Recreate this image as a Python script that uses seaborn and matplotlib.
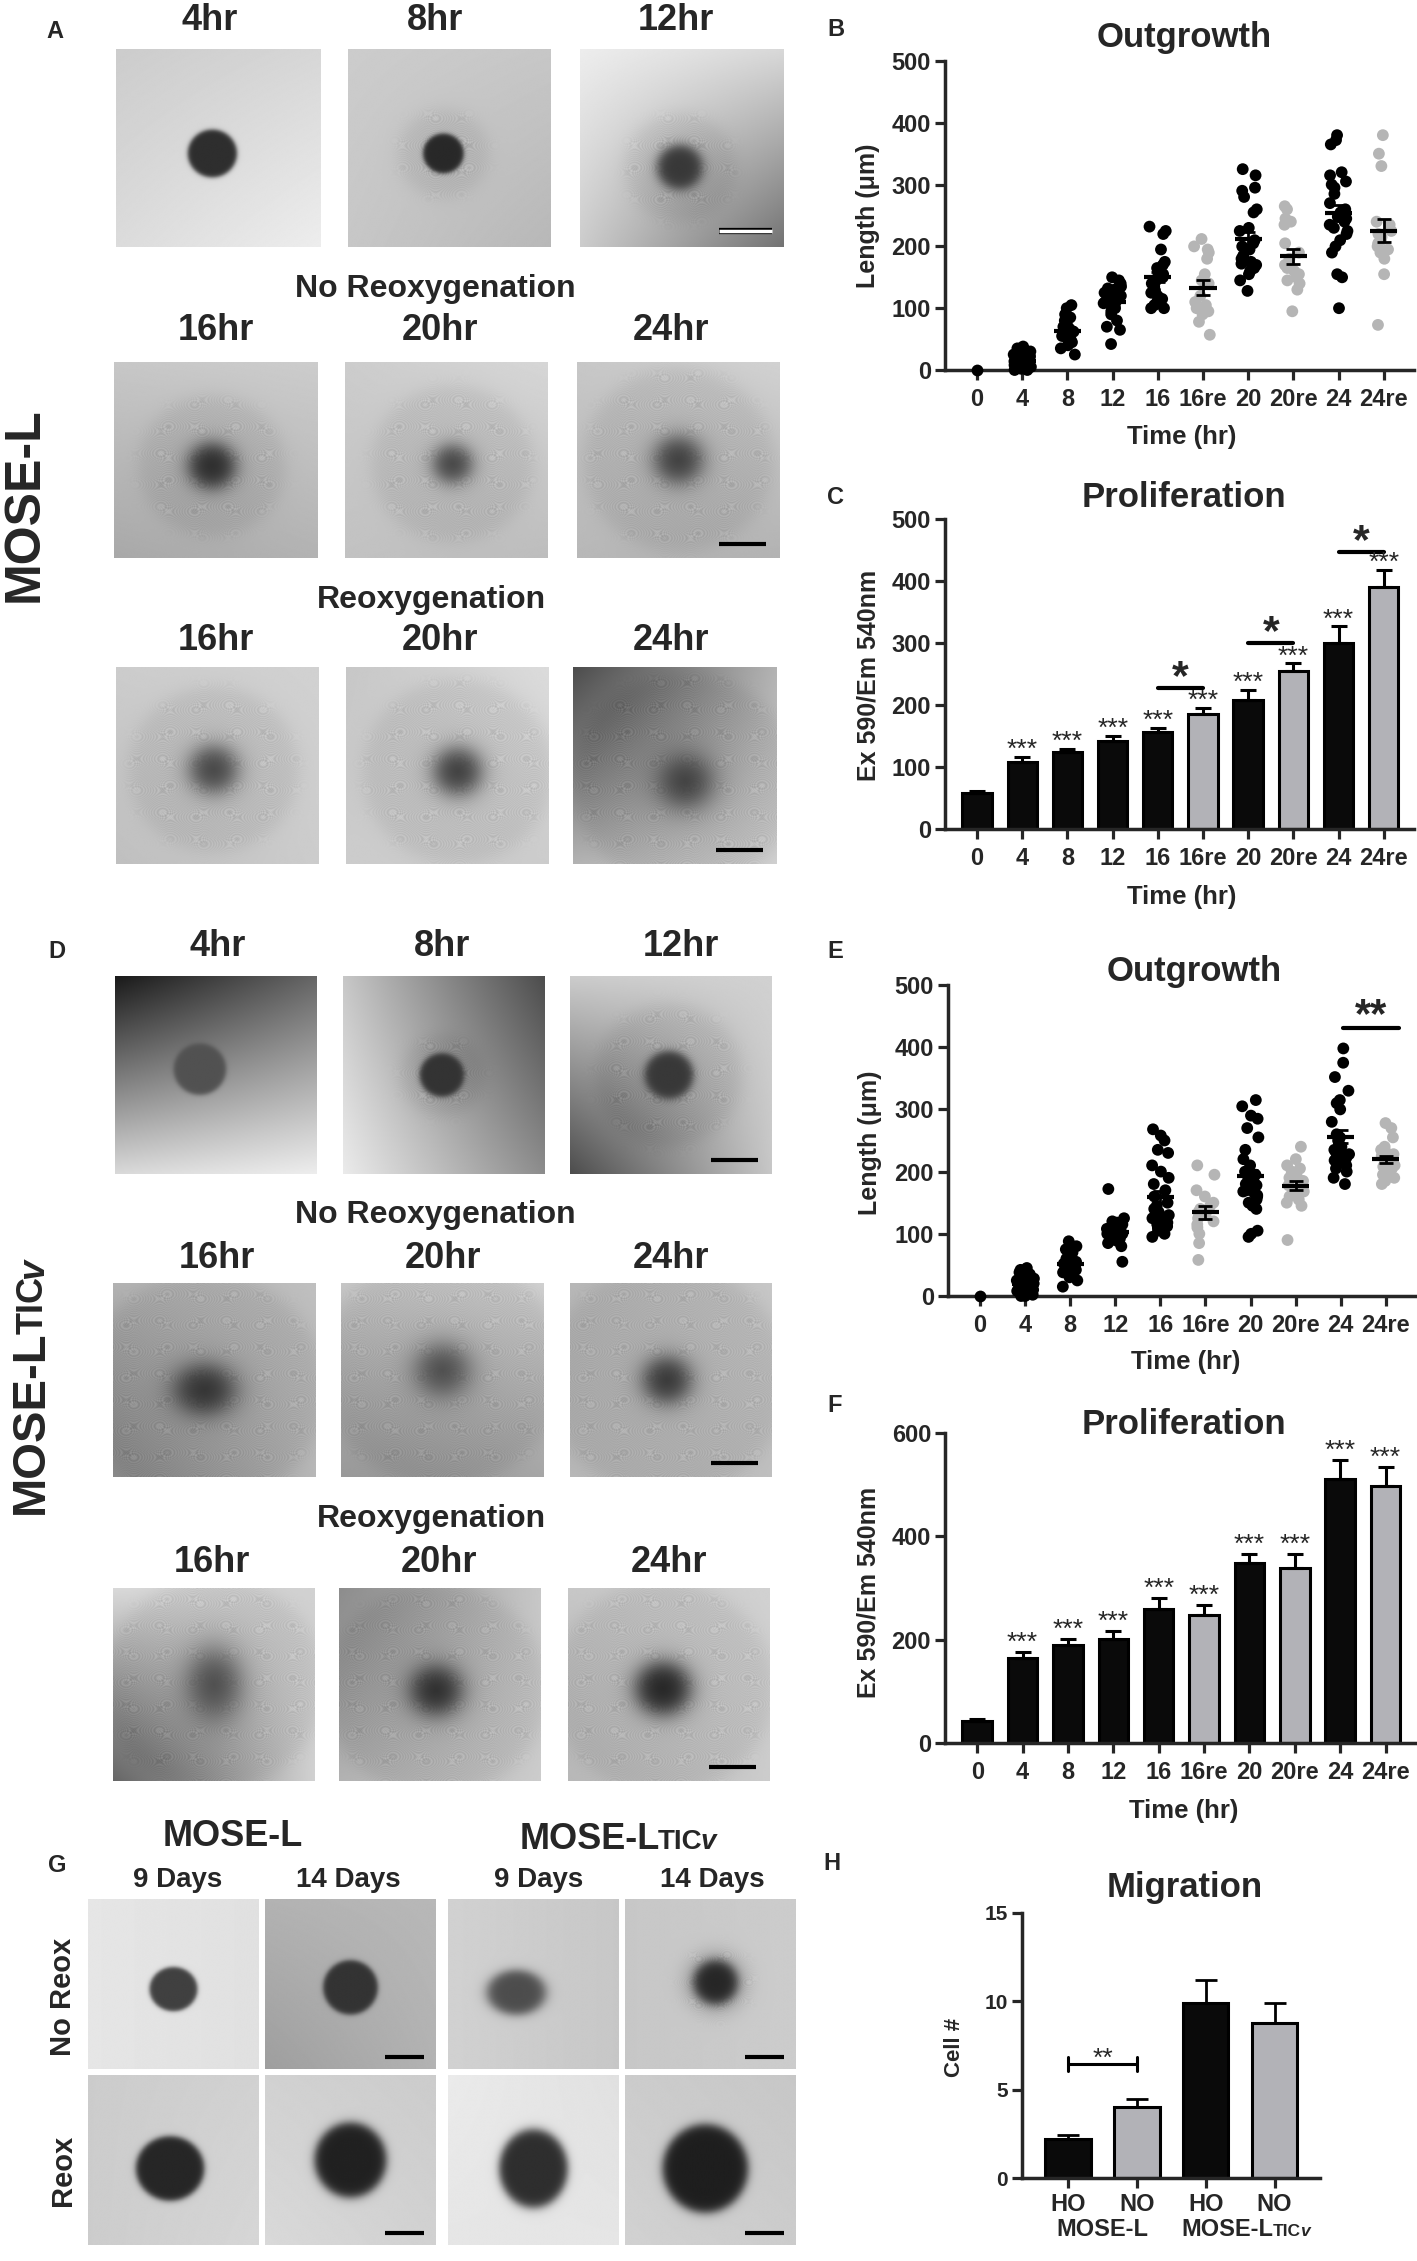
import numpy as np
import pandas as pd
import seaborn as sns
import matplotlib.pyplot as plt

W, H = 1417, 2261

# ---- data ----
time_cats = ["0", "4", "8", "12", "16", "16re", "20", "20re", "24", "24re"]

# B: MOSE-L outgrowth (um)
b_0 = [0]
b_4 = [0, 0, 2, 3, 5, 5, 6, 8, 8, 10, 10, 12, 12, 14, 15, 15, 18, 20, 22, 25, 28, 30, 35, 38]
b_8 = [25, 35, 40, 45, 50, 52, 55, 55, 58, 60, 60, 62, 63, 65, 68, 70, 75, 80, 85, 90, 100, 105]
b_12 = [42, 65, 70, 80, 90, 95, 100, 100, 105, 108, 110, 112, 115, 118, 120, 122, 125, 128,
        130, 132, 135, 140, 145, 150]
b_16 = [100, 100, 105, 110, 115, 120, 125, 128, 130, 135, 140, 145, 148, 150, 155, 160, 165,
        170, 175, 195, 220, 225, 232]
b_16re = [57, 78, 90, 95, 95, 100, 105, 110, 120, 140, 145, 155, 180, 190, 195, 200, 212]
b_20 = [128, 145, 155, 160, 165, 170, 172, 175, 175, 180, 185, 195, 200, 205, 210, 225, 230,
        255, 260, 280, 290, 295, 315, 325]
b_20re = [95, 130, 140, 145, 150, 155, 160, 165, 170, 180, 190, 205, 235, 240, 245, 260, 265]
b_24 = [100, 150, 155, 190, 200, 210, 220, 225, 230, 235, 240, 245, 248, 250, 250, 255, 260,
        270, 285, 295, 300, 305, 315, 320, 365, 372, 380]
b_24re = [73, 155, 180, 190, 195, 200, 205, 210, 215, 220, 225, 235, 240, 330, 350, 380]

# E: MOSE-LTICv outgrowth (um)
e_0 = [0]
e_4 = [0, 0, 2, 3, 5, 5, 8, 8, 10, 10, 12, 12, 15, 15, 18, 18, 20, 20, 22, 25, 25, 28, 30, 32,
       35, 38, 40, 42, 45]
e_8 = [15, 25, 30, 35, 38, 40, 42, 45, 48, 50, 52, 55, 58, 60, 65, 70, 75, 80, 88]
e_12 = [55, 80, 85, 88, 90, 92, 95, 98, 100, 100, 102, 105, 108, 110, 112, 115, 118, 120, 125, 172]
e_16 = [95, 100, 105, 110, 112, 115, 118, 120, 122, 125, 128, 130, 135, 140, 145, 150, 160, 170,
        180, 190, 200, 210, 230, 235, 250, 258, 268]
e_16re = [58, 85, 100, 110, 115, 120, 125, 130, 135, 140, 145, 150, 160, 170, 195, 210]
e_20 = [95, 100, 105, 140, 145, 150, 155, 160, 162, 165, 168, 170, 172, 175, 178, 180, 185, 190,
        195, 200, 210, 220, 235, 255, 270, 285, 290, 305, 315]
e_20re = [90, 145, 150, 155, 160, 165, 168, 170, 172, 175, 178, 180, 185, 190, 195, 200, 205,
          210, 220, 240]
e_24 = [180, 190, 200, 205, 210, 215, 218, 220, 222, 225, 228, 230, 232, 235, 240, 245, 250, 255,
        260, 280, 300, 310, 315, 330, 352, 375, 398]
e_24re = [180, 185, 190, 195, 200, 205, 208, 210, 212, 215, 218, 220, 222, 225, 228, 230, 235,
          240, 255, 270, 278]

# C / F: proliferation (mean, SEM)
c_mean = [58.6, 107.6, 124, 142.6, 157, 185, 208.7, 255, 300.7, 390.6]
c_sem = [3.4, 9, 4.6, 7.4, 6.5, 10, 15.3, 12, 26, 27.4]
c_star = ["", "***", "***", "***", "***", "***", "***", "***", "***", "***"]
c_pairs = [(4, 5, 228), (6, 7, 300), (8, 9, 447)]

f_mean = [41.8, 164, 190, 201, 260, 248, 348, 338, 510.5, 497]
f_sem = [4.6, 13, 11, 16.6, 20, 18.5, 18, 28, 38, 38]
f_star = ["", "***", "***", "***", "***", "***", "***", "***", "***", "***"]

# H: migration
h_labels = ["HO", "NO", "HO", "NO"]
h_mean = [2.2, 4.0, 9.9, 8.75]
h_sem = [0.25, 0.5, 1.3, 1.15]

BLACK = "#0a0a0a"
GREY = "#b2b2b7"
DOT_GREY = "#b5b5b5"

sns.set_style("ticks")
plt.rcParams["font.family"] = ["Liberation Sans", "DejaVu Sans"]
plt.rcParams["font.weight"] = "bold"
plt.rcParams["axes.labelweight"] = "bold"

fig = plt.figure(figsize=(W / 100, H / 100), dpi=100)


def box(l, t, r, b):
    return fig.add_axes([l / W, 1 - b / H, (r - l) / W, (b - t) / H])


def put(x, y, s, **kw):
    kw.setdefault("ha", "center")
    kw.setdefault("va", "center")
    kw.setdefault("weight", "bold")
    return fig.text(x / W, 1 - y / H, s, **kw)


def mixed(x, y, parts, rotation=0, kern=0):
    # run of text pieces centred on x (or y), baseline at y (or x when vertical)
    rend = fig.canvas.get_renderer()
    widths = []
    for s, size, style in parts:
        t = fig.text(0, 0, s, size=size, style=style, weight="bold")
        widths.append(t.get_window_extent(rend).width - kern)
        t.remove()
    pos = -sum(widths) / 2
    for (s, size, style), w in zip(parts, widths):
        if rotation == 0:
            px, py = x + pos, y
        else:
            px, py = x, y - pos
        fig.text(px / W, 1 - py / H, s, size=size, style=style, weight="bold",
                 rotation=rotation, rotation_mode="anchor", ha="left", va="baseline")
        pos += w


def micro(l, t, r, b, corners, spot, halo=None, bar=None):
    ax = box(l, t, r, b)
    yy, xx = np.mgrid[0:1:300j, 0:1:300j]
    tl, tr, bl, br = corners
    img = tl * (1 - xx) * (1 - yy) + tr * xx * (1 - yy) + bl * (1 - xx) * yy + br * xx * yy
    cx, cy, rx, ry, core, soft = spot
    if halo:
        dh = np.hypot(xx - cx, yy - cy)
        hm = 1 / (1 + np.exp((dh - halo) / 0.025))
        tex = 0.08 * np.sin(260 * xx + 40 * np.sin(23 * yy)) * np.sin(250 * yy + 40 * np.sin(19 * xx))
        img = img - hm * (0.06 + tex)
    d = np.hypot((xx - cx) / rx, (yy - cy) / ry)
    m = 1 / (1 + np.exp((d - 1) / soft))
    img = img * (1 - m) + core * m
    ax.imshow(np.clip(img, 0, 1), cmap="gray", vmin=0, vmax=1, extent=(0, 1, 1, 0),
              aspect="auto", interpolation="bilinear")
    ax.set_xlim(0, 1)
    ax.set_ylim(1, 0)
    ax.axis("off")
    if bar:
        if bar == "white":
            ax.plot([0.68, 0.94], [0.92, 0.92], color="k", lw=4.5, solid_capstyle="butt")
            ax.plot([0.68, 0.94], [0.92, 0.92], color="white", lw=2.5, solid_capstyle="butt")
        else:
            ax.plot([0.7, 0.93], [0.93, 0.93], color="k", lw=3, solid_capstyle="butt")
    return ax


def style(ax, ymax, yticks, size=17):
    ax.set_ylim(0, ymax)
    ax.set_yticks(yticks)
    ax.tick_params(axis="both", width=2.3, length=7, labelsize=size, pad=3)
    ax.tick_params(axis="x", pad=6)
    for s in ["left", "bottom"]:
        ax.spines[s].set_linewidth(2.5)
    sns.despine(ax=ax)
    ax.set_xlabel("")
    ax.set_ylabel("")


# ---- panel A / D microscopy ----
a_cols = [[(116, 321), (348, 551), (580, 784)],
          [(114, 318), (345, 548), (577, 780)],
          [(116, 319), (346, 549), (573, 777)]]
a_rows = [(49, 247), (362, 558), (667, 864)]
a_corners = [[(0.80, 0.84, 0.86, 0.93), (0.80, 0.78, 0.78, 0.72), (0.93, 0.85, 0.80, 0.45)],
             [(0.78, 0.80, 0.66, 0.70), (0.80, 0.84, 0.76, 0.74), (0.78, 0.82, 0.72, 0.70)],
             [(0.80, 0.82, 0.75, 0.80), (0.78, 0.86, 0.80, 0.80), (0.30, 0.70, 0.70, 0.82)]]
a_spots = [[(0.47, 0.53, 0.12, 0.12, 0.18, 0.05), (0.47, 0.53, 0.10, 0.10, 0.16, 0.06),
            (0.49, 0.60, 0.11, 0.11, 0.22, 0.15)],
           [(0.48, 0.53, 0.11, 0.11, 0.18, 0.25), (0.53, 0.52, 0.09, 0.09, 0.28, 0.3),
            (0.50, 0.50, 0.11, 0.11, 0.25, 0.3)],
           [(0.48, 0.52, 0.11, 0.11, 0.28, 0.3), (0.55, 0.53, 0.11, 0.11, 0.25, 0.3),
            (0.55, 0.58, 0.12, 0.12, 0.25, 0.35)]]
a_halo = [[None, 0.22, 0.27], [0.36, 0.40, 0.47], [0.42, 0.47, 0.55]]
a_bar = [[None, None, "white"], [None, None, "k"], [None, None, "k"]]

d_cols = [[(115, 317), (343, 545), (570, 772)],
          [(113, 316), (341, 544), (570, 772)],
          [(113, 315), (339, 541), (568, 770)]]
d_rows = [(976, 1174), (1283, 1477), (1588, 1781)]
d_corners = [[(0.10, 0.40, 0.85, 0.93), (0.78, 0.30, 0.92, 0.55), (0.80, 0.82, 0.30, 0.78)],
             [(0.70, 0.75, 0.55, 0.72), (0.78, 0.82, 0.60, 0.65), (0.72, 0.78, 0.72, 0.75)],
             [(0.85, 0.82, 0.40, 0.82), (0.55, 0.78, 0.70, 0.80), (0.78, 0.82, 0.72, 0.80)]]
d_spots = [[(0.42, 0.47, 0.13, 0.13, 0.32, 0.05), (0.49, 0.50, 0.11, 0.11, 0.20, 0.07),
            (0.49, 0.50, 0.12, 0.12, 0.22, 0.10)],
           [(0.45, 0.55, 0.14, 0.12, 0.20, 0.3), (0.50, 0.45, 0.12, 0.12, 0.30, 0.35),
            (0.48, 0.50, 0.11, 0.11, 0.22, 0.3)],
           [(0.50, 0.50, 0.12, 0.16, 0.30, 0.35), (0.48, 0.53, 0.12, 0.12, 0.18, 0.3),
            (0.47, 0.52, 0.13, 0.13, 0.15, 0.25)]]
d_halo = [[None, 0.20, 0.36], [0.60, 0.60, 0.60], [0.55, 0.55, 0.55]]
d_bar = [[None, None, "k"], [None, None, "k"], [None, None, "k"]]

for rows, cols, corners, spots, halos, bars in [
        (a_rows, a_cols, a_corners, a_spots, a_halo, a_bar),
        (d_rows, d_cols, d_corners, d_spots, d_halo, d_bar)]:
    for i, (t, b) in enumerate(rows):
        for j, (l, r) in enumerate(cols[i]):
            micro(l, t, r, b, corners[i][j], spots[i][j], halos[i][j], bars[i][j])

row_titles = [["4hr", "8hr", "12hr"], ["16hr", "20hr", "24hr"], ["16hr", "20hr", "24hr"]]
a_title_y = [20, 331, 641]
a_title_x = [[210, 435, 676], [216, 440, 671], [216, 440, 671]]
d_title_y = [946, 1259, 1563]
d_title_x = [[218, 442, 681], [217, 443, 671], [212, 439, 669]]
for ys, xs in [(a_title_y, a_title_x), (d_title_y, d_title_x)]:
    for i, y in enumerate(ys):
        for j, x in enumerate(xs[i]):
            put(x, y, row_titles[i][j], size=26)

put(435, 289, "No Reoxygenation", size=23)
put(431, 600, "Reoxygenation", size=23)
put(435, 1215, "No Reoxygenation", size=23)
put(431, 1519, "Reoxygenation", size=23)

put(25, 505, "MOSE-L", size=36, rotation=90)
mixed(43, 1388, [("MOSE-L", 34, "normal"), ("TIC", 26, "normal"), ("v", 26, "italic")],
      rotation=90, kern=3)

# ---- panel G microscopy ----
g_cols = [(88, 259), (265, 436), (448, 619), (625, 796)]
g_rows = [(1899, 2069), (2075, 2245)]
g_corners = [[(0.90, 0.88, 0.90, 0.88), (0.70, 0.72, 0.62, 0.70), (0.82, 0.78, 0.82, 0.78),
              (0.78, 0.80, 0.78, 0.80)],
             [(0.80, 0.82, 0.80, 0.84), (0.82, 0.80, 0.85, 0.82), (0.92, 0.88, 0.90, 0.90),
              (0.80, 0.78, 0.82, 0.80)]]
g_spots = [[(0.50, 0.53, 0.14, 0.13, 0.25, 0.05), (0.50, 0.52, 0.16, 0.16, 0.20, 0.05),
            (0.40, 0.55, 0.17, 0.13, 0.30, 0.12), (0.53, 0.49, 0.13, 0.13, 0.15, 0.15)],
           [(0.48, 0.55, 0.20, 0.19, 0.15, 0.05), (0.50, 0.50, 0.21, 0.22, 0.13, 0.07),
            (0.50, 0.55, 0.20, 0.23, 0.18, 0.07), (0.47, 0.55, 0.25, 0.26, 0.12, 0.06)]]
for i, (t, b) in enumerate(g_rows):
    for j, (l, r) in enumerate(g_cols):
        micro(l, t, r, b, g_corners[i][j], g_spots[i][j],
              0.22 if (i == 0 and j == 3) else None, "k" if j in (1, 3) else None)

put(233, 1837, "MOSE-L", size=26)
mixed(617, 1849, [("MOSE-L", 26, "normal"), ("TIC", 20, "normal"), ("v", 20, "italic")], kern=2)
for x, s in zip([178, 348, 539, 712], ["9 Days", "14 Days", "9 Days", "14 Days"]):
    put(x, 1880, s, size=20)
put(63, 1997, "No Reox", size=21, rotation=90)
put(63, 2170, "Reox", size=21, rotation=90)

# ---- panel letters ----
for x, y, s in [(55, 31, "A"), (836, 29, "B"), (836, 497, "C"), (57, 952, "D"),
                (835, 952, "E"), (835, 1405, "F"), (57, 1865, "G"), (832, 1863, "H")]:
    put(x, y, s, size=17)


# ---- outgrowth scatter panels ----
def outgrowth(ax, series):
    rows = []
    for cat, vals in zip(time_cats, series):
        for v in vals:
            rows.append({"time": cat, "length": v,
                         "group": "re" if cat.endswith("re") else "no"})
    df = pd.DataFrame(rows)
    sns.stripplot(data=df, x="time", y="length", hue="group", order=time_cats,
                  palette={"no": "black", "re": DOT_GREY}, size=8.5, jitter=0.2,
                  linewidth=0, legend=False, ax=ax, clip_on=False, zorder=3)
    stats = df.groupby("time")["length"].agg(["mean", "sem"])
    for i, cat in enumerate(time_cats):
        m, se = stats.loc[cat, "mean"], stats.loc[cat, "sem"]
        if np.isnan(se):
            continue
        ax.hlines(m, i - 0.3, i + 0.3, color="black", lw=3, zorder=6)
        ax.errorbar(i, m, yerr=se, fmt="none", ecolor="black", elinewidth=2,
                    capsize=5, capthick=2, zorder=6)
    ax.set_xlim(-0.71, 9.67)
    style(ax, 500, [0, 100, 200, 300, 400, 500])


np.random.seed(7)
axB = box(945, 61, 1414, 370)
outgrowth(axB, [b_0, b_4, b_8, b_12, b_16, b_16re, b_20, b_20re, b_24, b_24re])

axE = box(948, 985, 1416, 1296)
outgrowth(axE, [e_0, e_4, e_8, e_12, e_16, e_16re, e_20, e_20re, e_24, e_24re])
axE.plot([8.05, 9.3], [431, 431], color="black", lw=3, clip_on=False)
axE.annotate("**", (8.67, 431), xytext=(0, 1), textcoords="offset pixels",
             ha="center", va="baseline", size=30, weight="bold")


# ---- proliferation bar panels ----
def prolif(ax, means, sems, stars, ymax, yticks, star_off):
    colors = [GREY if c.endswith("re") else BLACK for c in time_cats]
    sns.barplot(x=time_cats, y=means, hue=time_cats, order=time_cats, palette=colors,
                edgecolor="black", linewidth=2.2, width=0.65, legend=False, ax=ax,
                saturation=1)
    ax.errorbar(range(len(means)), means, yerr=[np.zeros(len(means)), sems], fmt="none",
                ecolor="black", elinewidth=2.2, capsize=6, capthick=2.2, zorder=4)
    for i, (m, se, s) in enumerate(zip(means, sems, stars)):
        if s:
            ax.annotate(s, (i, m + se), xytext=(0, star_off), textcoords="offset pixels",
                        ha="center", va="baseline", size=19, weight="normal")
    ax.set_xlim(-0.71, 9.67)
    style(ax, ymax, yticks)


axC = box(945, 519, 1414, 829)
prolif(axC, c_mean, c_sem, c_star, 500, [0, 100, 200, 300, 400, 500], 0)
for i0, i1, y in c_pairs:
    axC.plot([i0, i1], [y, y], color="black", lw=3, clip_on=False)
    axC.annotate("*", ((i0 + i1) / 2, y), xytext=(0, -1), textcoords="offset pixels",
                 ha="center", va="baseline", size=31, weight="bold")

axF = box(945, 1433, 1416, 1743)
prolif(axF, f_mean, f_sem, f_star, 600, [0, 200, 400, 600], 2)

# ---- H migration ----
axH = box(1022, 1913, 1320, 2178)
sns.barplot(x=list(range(4)), y=h_mean, hue=list(range(4)),
            palette=[BLACK, GREY, BLACK, GREY], edgecolor="black", linewidth=2.2,
            width=0.66, legend=False, ax=axH, saturation=1)
axH.errorbar(range(4), h_mean, yerr=[np.zeros(4), h_sem], fmt="none", ecolor="black",
             elinewidth=2, capsize=8, capthick=2, zorder=4)
axH.set_xlim(-0.67, 3.66)
style(axH, 15, [0, 5, 10, 15], size=15)
axH.set_xticks(range(4))
axH.set_xticklabels(h_labels, size=17)
axH.tick_params(axis="x", pad=4)
axH.plot([0, 1], [6.45, 6.45], color="black", lw=2.2)
axH.plot([0, 0], [6.04, 6.85], color="black", lw=2.2)
axH.plot([1, 1], [6.04, 6.85], color="black", lw=2.2)
axH.annotate("**", (0.5, 6.45), xytext=(0, -2), textcoords="offset pixels",
             ha="center", va="baseline", size=19, weight="normal")
put(1102, 2229, "MOSE-L", size=17)
mixed(1245, 2236, [("MOSE-L", 17, "normal"), ("TIC", 12.5, "normal"), ("v", 12.5, "italic")],
      kern=1)

# ---- chart titles and axis labels ----
for x, y, s in [(1184, 38, "Outgrowth"), (1184, 498, "Proliferation"),
                (1194, 972, "Outgrowth"), (1184, 1425, "Proliferation"),
                (1185, 1887, "Migration")]:
    put(x, y, s, size=25)
for x, y in [(1182, 437), (1182, 897), (1186, 1362), (1184, 1811)]:
    put(x, y, "Time (hr)", size=18.5)
put(868, 216, "Length (\u03bcm)", size=18, rotation=90)
put(868, 675, "Ex 590/Em 540nm", size=18, rotation=90)
put(870, 1143, "Length (\u03bcm)", size=18, rotation=90)
put(868, 1592, "Ex 590/Em 540nm", size=18, rotation=90)
put(955, 2047, "Cell #", size=16, rotation=90)

fig.savefig("out.png", dpi=100)
